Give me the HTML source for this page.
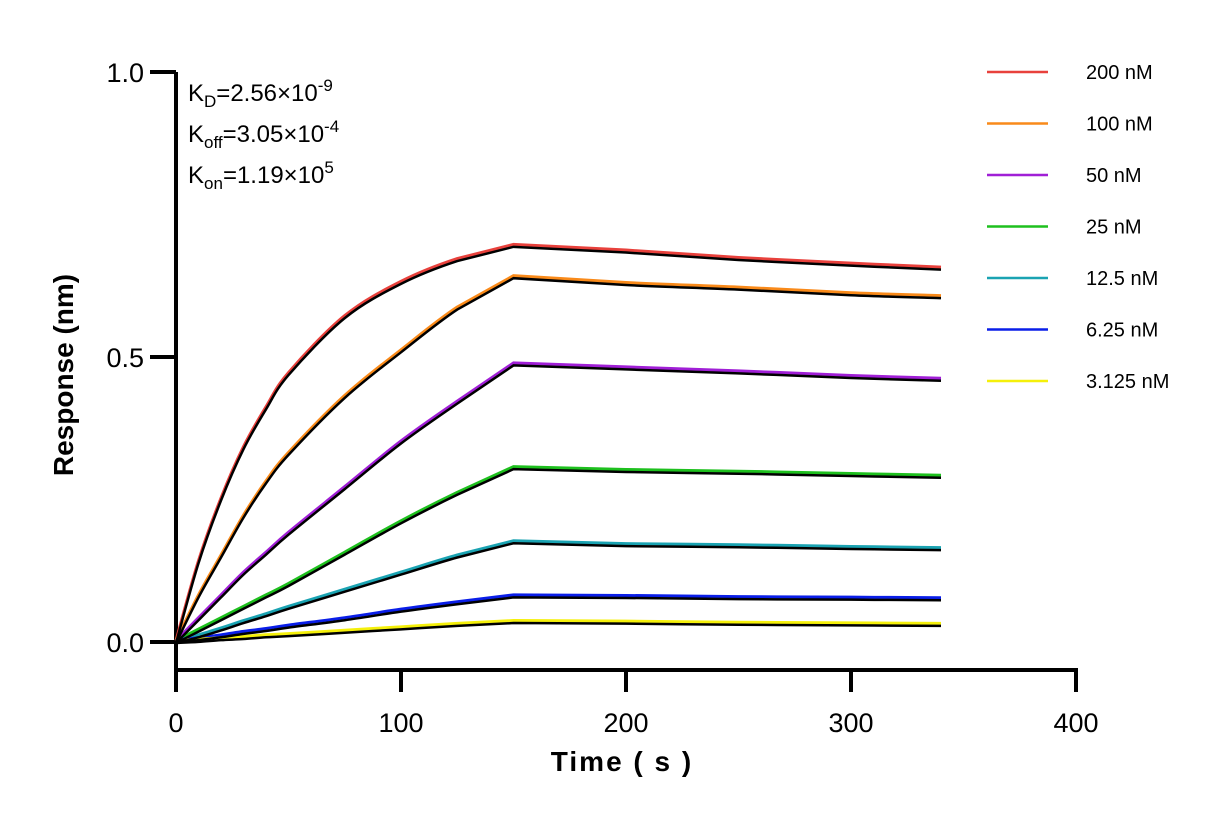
<!DOCTYPE html>
<html><head><meta charset="utf-8"><style>
html,body{margin:0;padding:0;background:#fff}
svg{display:block;font-family:"Liberation Sans",Arial,sans-serif}
</style></head><body>
<svg id="chart" width="1231" height="825" viewBox="0 0 1231 825" xmlns="http://www.w3.org/2000/svg">
<g id="axes"></g>
<g id="series"></g>
<g id="legend"></g>
<g font-size="24" fill="#000">
<text x="188" y="101">K<tspan font-size="17" dy="6">D</tspan><tspan dy="-6">=2.56×10</tspan><tspan font-size="17" dy="-10">-9</tspan></text>
<text x="188" y="142">K<tspan font-size="17" dy="6">off</tspan><tspan dy="-6">=3.05×10</tspan><tspan font-size="17" dy="-10">-4</tspan></text>
<text x="188" y="183">K<tspan font-size="17" dy="6">on</tspan><tspan dy="-6">=1.19×10</tspan><tspan font-size="17" dy="-10">5</tspan></text>
</g>
<text transform="translate(73,375) rotate(-90)" text-anchor="middle" font-size="28" font-weight="bold">Response (nm)</text>
<text x="622" y="771" text-anchor="middle" font-size="28" font-weight="bold" letter-spacing="2">Time ( s )</text>
</svg>
<script>
const times = [0,10,20,30,40,50,75,100,125,150,200,250,300,340];
const seriesNames = ["200 nM","100 nM","50 nM","25 nM","12.5 nM","6.25 nM","3.125 nM"];
const seriesColors = ["#e8413c","#f98a1a","#a01fd6","#1ec01e","#1aa3b2","#0a1ee8","#f5f00a"];
const s200 = [0,0.14,0.25,0.34,0.41,0.47,0.57,0.63,0.67,0.695,0.685,0.672,0.662,0.655];
const s100 = [0,0.08,0.15,0.22,0.28,0.33,0.43,0.51,0.585,0.64,0.628,0.62,0.61,0.605];
const s50 = [0,0.04,0.08,0.12,0.155,0.19,0.27,0.35,0.42,0.487,0.48,0.473,0.465,0.46];
const s25 = [0,0.02,0.04,0.06,0.08,0.1,0.155,0.21,0.26,0.305,0.3,0.297,0.293,0.29];
const s12 = [0,0.01,0.022,0.035,0.047,0.06,0.09,0.12,0.15,0.175,0.17,0.168,0.165,0.163];
const s6 = [0,0.005,0.01,0.016,0.021,0.027,0.04,0.055,0.068,0.08,0.079,0.077,0.076,0.075];
const s3 = [0,0.002,0.005,0.007,0.01,0.012,0.018,0.024,0.03,0.035,0.034,0.032,0.031,0.03];
const allSeries = [s200,s100,s50,s25,s12,s6,s3];
const xTicks = [0,100,200,300,400];
const yTicks = [0.0,0.5,1.0];
const yTickLabels = ["0.0","0.5","1.0"];

const NS="http://www.w3.org/2000/svg";
const X0=176,X1=1076,Y0=642,Y1=72;
const xs=v=>X0+(v/400)*(X1-X0);
const ys=v=>Y0-(v/1.0)*(Y0-Y1);
function mk(tag,attrs,parent){const e=document.createElementNS(NS,tag);for(const k in attrs)e.setAttribute(k,attrs[k]);parent.appendChild(e);return e;}
const axes=document.getElementById('axes');
let e=mk('line',{x1:X0,y1:Y1,x2:X0,y2:670,stroke:'#000','stroke-width':4},axes);


e=mk('line',{x1:X0-2,y1:670,x2:X1+2,y2:670,stroke:'#000','stroke-width':4},axes);


yTicks.forEach((t,i)=>{
  const l=mk('line',{x1:150,x2:X0,y1:ys(t),y2:ys(t),stroke:'#000','stroke-width':4},axes);
  
  
  const tx=mk('text',{x:144,y:ys(t)+10,'text-anchor':'end','font-size':27},axes);
  tx.textContent=yTickLabels[i];
  
  
});
xTicks.forEach(t=>{
  const l=mk('line',{x1:xs(t),x2:xs(t),y1:670,y2:692,stroke:'#000','stroke-width':4},axes);
  
  
  const tx=mk('text',{x:xs(t),y:732,'text-anchor':'middle','font-size':27},axes);
  tx.textContent=String(t);
  
  
});
function smoothPath(vals){
  const p=times.map((t,i)=>[xs(t),ys(vals[i])]);
  let d=`M${p[0][0]},${p[0][1]}`;
  for(let i=0;i<p.length-1;i++){
    const a=p[i-1]||p[i],b=p[i],c=p[i+1],n=p[i+2]||c;
    const k=(i===8||i===9)?0:1/6;
    d+=` C${b[0]+(c[0]-a[0])*k},${b[1]+(c[1]-a[1])*k} ${c[0]-(n[0]-b[0])*k},${c[1]-(n[1]-b[1])*k} ${c[0]},${c[1]}`;
  }
  return d;
}
const sg=document.getElementById('series');
allSeries.forEach((vals,i)=>{
  const p=mk('path',{d:smoothPath(vals),fill:'none',stroke:seriesColors[i],'stroke-width':3,transform:'translate(0,-1.5)'},sg);
  
  
});
allSeries.forEach((vals,i)=>{
  const p=mk('path',{d:smoothPath(vals),fill:'none',stroke:'#000','stroke-width':2.5,transform:'translate(0,1)'},sg);
  
  
});
const lg=document.getElementById('legend');
seriesNames.forEach((n,i)=>{
  const y=72+i*51.5;
  const l=mk('line',{x1:987,x2:1048,y1:y,y2:y,stroke:seriesColors[i],'stroke-width':2.5},lg);
  
  
  const t=mk('text',{x:1086,y:y+7,'font-size':20},lg);
  t.textContent=n;
  
  
});
</script>
</body></html>
